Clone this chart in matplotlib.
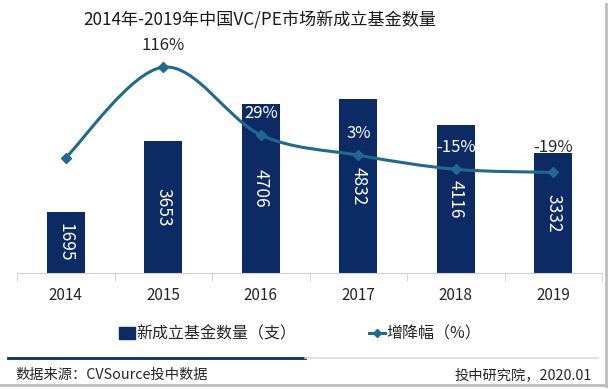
import numpy as np
import matplotlib.pyplot as plt
from matplotlib.path import Path
from matplotlib.patches import PathPatch, Patch
from matplotlib.lines import Line2D

plt.rcParams['font.family'] = ['Noto Sans CJK SC', 'DejaVu Sans']
plt.rcParams['axes.unicode_minus'] = False

# 数据
years = ['2014', '2015', '2016', '2017', '2018', '2019']
fund_counts = [1695, 3653, 4706, 4832, 4116, 3332]
growth = [0, 116, 29, 3, -15, -19]
growth_labels = ['', '116%', '29%', '3%', '-15%', '-19%']

bar_color = '#0C2A63'
line_color = '#22698F'

fig = plt.figure(figsize=(6.1, 3.89), dpi=100)
ax = fig.add_axes([0.0279, 0.2982, 0.959, 0.5553])
x = np.arange(len(years))

bars = ax.bar(x, fund_counts, width=0.39, color=bar_color, zorder=2)
ax.set_ylim(0, 6000)
ax.set_xlim(-0.5, len(years) - 0.5)
for xi, v in zip(x, fund_counts):
    ax.text(xi, v / 2, str(v), rotation=270, ha='center', va='center',
            color='white', fontsize=12.5, zorder=5)

# 坐标轴样式
for s in ['top', 'right', 'left']:
    ax.spines[s].set_visible(False)
ax.spines['bottom'].set_color('#d0d0d0')
ax.set_yticks([])
ax.set_xticks(x)
ax.set_xticklabels(years, fontsize=11, color='#262626')
ax.tick_params(axis='x', length=0, pad=10)
ax.set_xticks(np.arange(-0.5, len(years) + 0.5, 1), minor=True)
ax.tick_params(axis='x', which='minor', length=6, color='#d0d0d0')

# 增降幅（平滑曲线）
ax2 = ax.twinx()
ax2.set_ylim(-148, 129)
ax2.axis('off')
pts = np.column_stack([x, growth]).astype(float)
ext = np.vstack([pts[0], pts, pts[-1]])
verts = [tuple(pts[0])]
codes = [Path.MOVETO]
for i in range(len(pts) - 1):
    p0, p1, p2, p3 = ext[i], ext[i + 1], ext[i + 2], ext[i + 3]
    c1 = p1 + (p2 - p0) / 6
    c2 = p2 - (p3 - p1) / 6
    verts += [tuple(c1), tuple(c2), tuple(p2)]
    codes += [Path.CURVE4] * 3
ax2.add_patch(PathPatch(Path(verts, codes), facecolor='none',
                        edgecolor=line_color, lw=2.2, zorder=3))
ax2.plot(x, growth, ls='none', marker='D', ms=5, color=line_color, zorder=4)

for i, (xi, g, lab) in enumerate(zip(x, growth, growth_labels)):
    if not lab:
        continue
    inside = g + 28 < 0 or (fund_counts[i] / 6000 * 277 - 148) > g + 34
    off = 32 if i == 5 else 28
    ax2.text(xi, g + off, lab, ha='center', va='center', fontsize=12,
             color='white' if inside else '#262626', zorder=5)

# 图例
handles = [Patch(facecolor=bar_color, edgecolor=bar_color),
           Line2D([0], [0], color=line_color, lw=2.2, marker='D', ms=4)]
fig.legend(handles, ['新成立基金数量（支）', '增降幅（%）'], loc='center',
           bbox_to_anchor=(300 / 610, 1 - 334 / 389), ncol=2, frameon=False,
           fontsize=11.5, handlelength=1.0, handletextpad=0.1, columnspacing=4.5,
           labelcolor='#262626')

# 标题
fig.text(260 / 610, 1 - 20 / 389, '2014年-2019年中国VC/PE市场新成立基金数量',
         ha='center', va='center', fontsize=12.3, color='#1a1a1a')

# 底部分隔线与来源
fig.add_artist(Line2D([8 / 610, 305 / 610], [1 - 358 / 389] * 2, color=bar_color, lw=2))
fig.add_artist(Line2D([305 / 610, 598 / 610], [1 - 358 / 389] * 2, color='#dcdcdc', lw=1.2))
fig.text(15 / 610, 1 - 375 / 389, '数据来源：CVSource投中数据', ha='left', va='center',
         fontsize=10.3, color='#262626')
fig.text(592 / 610, 1 - 375 / 389, '投中研究院，2020.01', ha='right', va='center',
         fontsize=10.3, color='#262626')

# 外框阴影
fig.add_artist(Line2D([606 / 610] * 2, [1 - 4 / 389, 1 - 386 / 389], color='#bdbdbd', lw=2))
fig.add_artist(Line2D([0, 606 / 610], [1 - 385 / 389] * 2, color='#bdbdbd', lw=2))

fig.savefig('out.png', dpi=100)
